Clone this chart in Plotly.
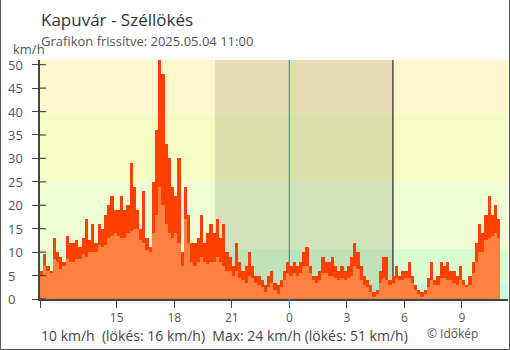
import plotly.graph_objects as go
import pandas as pd

# ---- data (10-minute bins, 2025-05-03 11:00 -> 2025-05-04 11:00), km/h ----
gust = [
    6, 9.5, 7, 6, 13, 10,        # 11
    9, 8, 13.5, 12, 12, 12.5,    # 12
    11, 13, 17, 12.5, 16, 12,    # 13
    16, 15, 18, 20, 22, 19,      # 14
    19, 22, 19, 20, 29, 24,      # 15
    19, 15, 23, 13, 11, 25,      # 16
    36, 51, 48, 33, 30, 24,      # 17
    22, 30, 10, 24, 18, 12,      # 18
    12, 13, 18, 12, 14, 16,      # 19
    14, 17, 13, 16, 10, 9,       # 20
    7, 12, 8, 6, 7, 10,          # 21
    7, 5, 5, 4, 3, 5,            # 22
    6, 3.5, 3, 4, 6, 8,          # 23
    7, 8, 7, 8, 10, 11,          # 0
    7, 5, 5, 6, 9, 8,            # 1
    8, 9, 7, 6, 7, 6,            # 2
    7, 9, 12, 10, 7, 5,          # 3
    4, 3, 1.5, 2, 6, 9,          # 4
    9, 4, 5, 7, 5, 6,            # 5
    6, 8, 5, 3, 2, 1.5,          # 6
    2, 4.5, 8, 4, 5, 8,          # 7
    7, 8, 6, 6, 5, 7,            # 8
    4, 3, 5, 8, 12, 16,          # 9
    14, 18, 22, 18, 20, 17,      # 10
]
wind = [
    5, 7, 6, 5.5, 8.5, 8,
    6.5, 7, 8.5, 8, 8, 8.5,
    8.5, 9.5, 9, 10, 10, 10,
    11.5, 11, 11.5, 13, 13.5, 14,
    13.5, 13, 13, 14, 14.5, 15,
    15, 12.5, 12, 10.5, 10, 14,
    18, 24, 20, 16, 14, 13,
    14, 12, 7, 17, 12, 8,
    7, 8, 9, 8, 7.5, 8,
    8, 9, 8, 7, 6, 6,
    5, 6, 4.5, 4, 3.5, 5,
    4.5, 3.5, 3, 2.5, 1.5, 2.5,
    3.5, 2, 1, 2.5, 4, 5.5,
    5, 5.5, 5, 5.5, 7, 7,
    5.5, 4, 3.5, 4, 5.5, 5.5,
    5, 5, 4.5, 4, 4.5, 4,
    4.5, 5, 7, 6.5, 4, 3,
    2.5, 1.5, 0.5, 1, 3.5, 4.5,
    4, 3, 3.5, 4.5, 4, 4,
    4.5, 4.5, 3.5, 2, 1, 0.5,
    1, 2.5, 4, 3, 3, 4.5,
    4.5, 4, 4, 3.5, 3, 4,
    3, 2.5, 3, 5.5, 8, 10,
    10, 12.5, 13, 13.5, 14, 13,
]
start_time = "2025-05-03 11:00"
end_range = "2025-05-04 11:24"
bin_minutes = 10
tick_times = ["2025-05-03 11:00", "2025-05-03 15:00", "2025-05-03 18:00", "2025-05-03 21:00",
              "2025-05-04 00:00", "2025-05-04 03:00", "2025-05-04 06:00", "2025-05-04 09:00"]
tick_labels = ["", "15", "18", "21", "0", "3", "6", "9"]
y_ticks = [0, 5, 10, 15, 20, 25, 30, 35, 40, 45, 50]
sunset = "2025-05-03 20:07"
sunrise = "2025-05-04 05:24"
midnight = "2025-05-04 00:00"
band_edges = [0, 3.6, 10.8, 25.2, 39.6, 51]
band_colors = ["#c8fde0", "#d9fdd0", "#effdd4", "#f5fcc2", "#fff8cc"]

title = "Kapuvár - Széllökés"
subtitle = "Grafikon frissítve: 2025.05.04 11:00"
footer = "10 km/h\u00a0\u00a0(lökés: 16 km/h)\u00a0\u00a0Max: 24 km/h (lökés: 51 km/h)"
credit = "© Időkép"

# ---- build ----
t0 = pd.Timestamp(start_time)
centers = [t0 + pd.Timedelta(minutes=bin_minutes * i + bin_minutes / 2) for i in range(len(gust))]
bw = bin_minutes * 60 * 1000

FONT = "Open Sans"
L, R, T, B = 40, 2, 60, 51
W, H = 510, 350
PW, PH = W - L - R, H - T - B

fig = go.Figure()
fig.add_trace(go.Bar(x=centers, y=gust, width=bw, marker=dict(color="#ff4000", line=dict(width=0)),
                     hoverinfo="skip"))
fig.add_trace(go.Bar(x=centers, y=wind, width=bw, marker=dict(color="#ff8040", line=dict(width=0)),
                     hoverinfo="skip"))

shapes = []
for i, c in enumerate(band_colors):
    shapes.append(dict(type="rect", xref="paper", yref="y", x0=0, x1=1,
                       y0=band_edges[i], y1=band_edges[i + 1], fillcolor=c,
                       line=dict(width=0), layer="below"))
shapes.append(dict(type="rect", xref="x", yref="paper", x0=sunset, x1=sunrise, y0=0, y1=1,
                   fillcolor="rgba(0,0,0,0.11)", line=dict(width=0), layer="below"))
shapes.append(dict(type="line", xref="x", yref="paper", x0=midnight, x1=midnight, y0=0, y1=1,
                   line=dict(color="#2b93d1", width=1.2), layer="below"))
shapes.append(dict(type="line", xref="x", yref="paper", x0=sunrise, x1=sunrise, y0=0, y1=1,
                   line=dict(color="#333333", width=1.3), layer="below"))
# blue midnight tick below the axis
shapes.append(dict(type="line", xref="x", yref="paper", x0=midnight, x1=midnight, y0=0, y1=-7 / PH,
                   line=dict(color="#2b93d1", width=1.2)))
# inner half of y ticks
for v in y_ticks:
    shapes.append(dict(type="line", xref="paper", yref="y", x0=0, x1=6 / PW, y0=v, y1=v,
                       line=dict(color="#444444", width=1.2)))
# outer frame (left, right, bottom)
fx0, fx1 = (0.5 - L) / PW, (W - 0.5 - L) / PW
fy0 = (-(H - 0.5 - (T + PH))) / PH
fy1 = (T + PH - 0) / PH
shapes.append(dict(type="line", xref="paper", yref="paper", x0=fx0, x1=fx0, y0=fy0, y1=fy1,
                   line=dict(color="#555555", width=1)))
shapes.append(dict(type="line", xref="paper", yref="paper", x0=fx1, x1=fx1, y0=fy0, y1=fy1,
                   line=dict(color="#555555", width=1)))
shapes.append(dict(type="line", xref="paper", yref="paper", x0=fx0, x1=fx1, y0=fy0, y1=fy0,
                   line=dict(color="#555555", width=1)))

def px_x(p):
    return (p - L) / PW

def px_y(p):
    return (T + PH - p) / PH

ann = [
    dict(text=title, x=px_x(39), y=px_y(19.5), xref="paper", yref="paper", xanchor="left",
         yanchor="middle", showarrow=False, font=dict(family=FONT, size=17, color="#333333")),
    dict(text=subtitle, x=px_x(39), y=px_y(41), xref="paper", yref="paper", xanchor="left",
         yanchor="middle", showarrow=False, font=dict(family=FONT, size=13, color="#555555")),
    dict(text="km/h", x=px_x(11), y=px_y(49), xref="paper", yref="paper", xanchor="left",
         yanchor="middle", showarrow=False, font=dict(family=FONT, size=13, color="#555555")),
    dict(text=footer, x=px_x(39), y=px_y(335.5), xref="paper", yref="paper", xanchor="left",
         yanchor="middle", showarrow=False, font=dict(family=FONT, size=14, color="#444444")),
    dict(text=credit, x=px_x(425), y=px_y(333.5), xref="paper", yref="paper", xanchor="left",
         yanchor="middle", showarrow=False, font=dict(family=FONT, size=12, color="#555555")),
]
for v in y_ticks:
    ann.append(dict(text=str(v), x=px_x(6), y=v, xref="paper", yref="y", xanchor="left",
                    yanchor="middle", showarrow=False, font=dict(family=FONT, size=13, color="#555555")))

fig.update_layout(
    width=W, height=H,
    margin=dict(l=L, r=R, t=T, b=B, pad=0),
    paper_bgcolor="white", plot_bgcolor="white",
    barmode="overlay", bargap=0, showlegend=False,
    shapes=shapes, annotations=ann,
    font=dict(family=FONT, size=13, color="#555555"),
    xaxis=dict(type="date", range=[start_time, end_range], tickvals=tick_times, ticktext=tick_labels,
               ticks="outside", ticklen=7, tickcolor="#444444", tickwidth=1.2,
               showline=True, linecolor="#444444", linewidth=1.5, showgrid=False, zeroline=False,
               tickfont=dict(family=FONT, size=12, color="#555555")),
    yaxis=dict(range=[0, 51], tickvals=y_ticks, showticklabels=False, ticks="outside", ticklen=6,
               tickcolor="#444444", tickwidth=1.2, showline=True, linecolor="#444444", linewidth=1.5,
               showgrid=False, zeroline=False),
)

fig.write_html("out.html")
